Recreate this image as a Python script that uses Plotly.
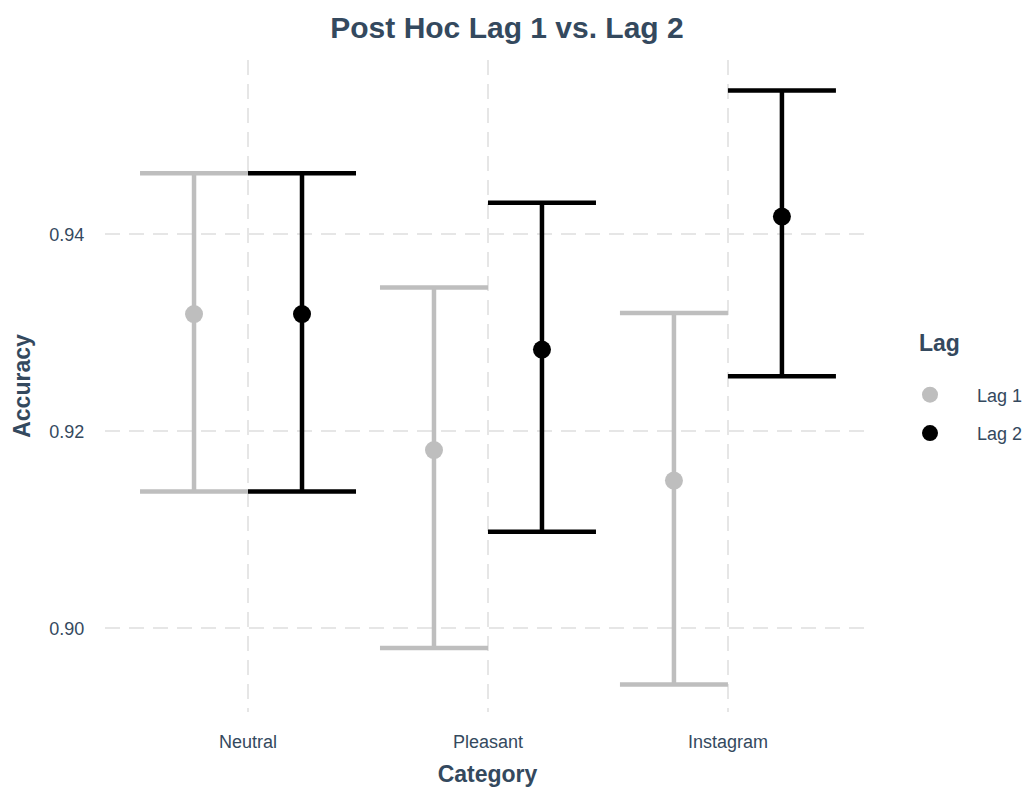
import plotly.graph_objects as go

# Post hoc accuracy estimates with confidence limits, by category and lag
categories = ["Neutral", "Pleasant", "Instagram"]
lags = ["Lag 1", "Lag 2"]

lag1_mean = [0.9319, 0.9181, 0.9150]
lag1_lower = [0.9139, 0.8980, 0.8943]
lag1_upper = [0.9462, 0.9346, 0.9320]

lag2_mean = [0.9319, 0.9283, 0.9418]
lag2_lower = [0.9139, 0.9098, 0.9256]
lag2_upper = [0.9462, 0.9432, 0.9546]

y_ticks = [0.90, 0.92, 0.94]
y_tick_labels = ["0.90", "0.92", "0.94"]

text_color = "#34495e"
grid_color = "#e6e6e6"
dodge = 0.225

series = [
    (lags[0], lag1_mean, lag1_lower, lag1_upper, "#bebebe", -dodge),
    (lags[1], lag2_mean, lag2_lower, lag2_upper, "#000000", dodge),
]

fig = go.Figure()
for name, mean, lower, upper, color, offset in series:
    xs = [i + offset for i in range(len(categories))]
    fig.add_trace(go.Scatter(
        x=xs,
        y=mean,
        mode="markers",
        name=name,
        legendgroup=name,
        marker=dict(color=color, size=18),
        error_y=dict(
            type="data",
            symmetric=False,
            array=[u - m for u, m in zip(upper, mean)],
            arrayminus=[m - l for m, l in zip(mean, lower)],
            color=color,
            thickness=4.5,
            width=54,
        ),
    ))

fig.update_layout(
    width=1026,
    height=787,
    paper_bgcolor="white",
    plot_bgcolor="white",
    margin=dict(l=105, r=156, t=60, b=75, autoexpand=False),
    font=dict(family="Liberation Sans, Arial, sans-serif", color=text_color),
    title=dict(
        text="<b>Post Hoc Lag 1 vs. Lag 2</b>",
        x=507 / 1026,
        xanchor="center",
        y=1 - 27 / 787,
        yanchor="middle",
        font=dict(size=30, color=text_color),
    ),
    xaxis=dict(
        range=[-0.596, 2.592],
        tickmode="array",
        tickvals=list(range(len(categories))),
        ticktext=categories,
        tickfont=dict(size=18, color=text_color),
        ticks="outside",
        ticklen=13,
        tickcolor="rgba(0,0,0,0)",
        showgrid=True,
        gridcolor=grid_color,
        gridwidth=2,
        griddash="15px,9px",
        zeroline=False,
        showline=False,
        automargin=False,
        title=dict(text="<b>Category</b>", font=dict(size=23, color=text_color), standoff=16),
    ),
    yaxis=dict(
        range=[0.8915, 0.9577],
        tickmode="array",
        tickvals=y_ticks,
        ticktext=y_tick_labels,
        tickfont=dict(size=18, color=text_color),
        ticks="outside",
        ticklen=16,
        tickcolor="rgba(0,0,0,0)",
        showgrid=True,
        gridcolor=grid_color,
        gridwidth=2,
        griddash="15px,9px",
        zeroline=False,
        showline=False,
        automargin=False,
        title=dict(text="<b>Accuracy</b>", font=dict(size=23, color=text_color), standoff=12),
    ),
    legend=dict(
        font=dict(size=18, color=text_color),
        xref="container",
        x=883 / 1026,
        xanchor="left",
        yref="container",
        y=1 - 414 / 787,
        yanchor="middle",
        tracegroupgap=12,
        traceorder="grouped",
        itemwidth=84,
    ),
    annotations=[dict(
        text="<b>Lag</b>",
        xref="paper", yref="paper",
        x=(917 - 105) / (1026 - 105 - 156),
        y=(787 - 75 - 343) / (787 - 60 - 75),
        xanchor="left", yanchor="middle",
        showarrow=False,
        font=dict(size=23, color=text_color),
    )],
)

fig.write_html("out.html")
